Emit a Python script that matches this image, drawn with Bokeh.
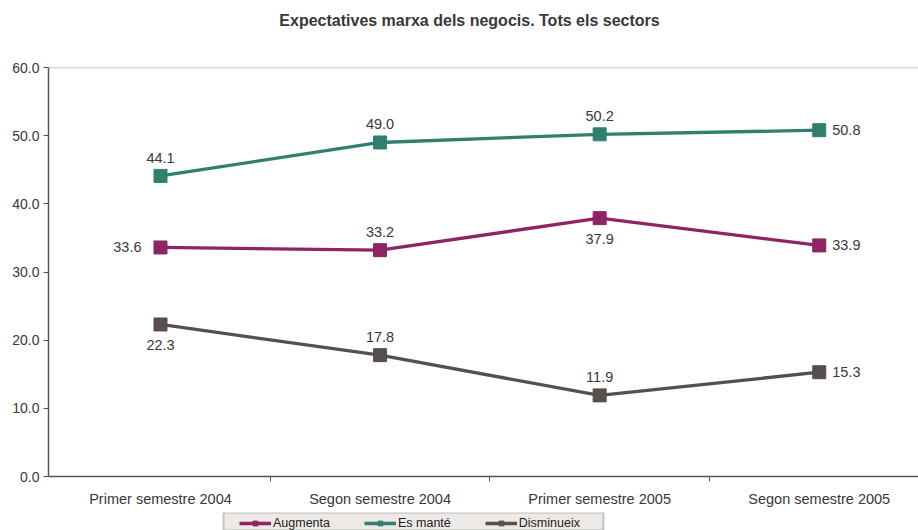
from bokeh.plotting import figure
from bokeh.layouts import column
from bokeh.models import (FixedTicker, Range1d, Span, Legend, LegendItem, Label,
                          ColumnDataSource, LabelSet, NumeralTickFormatter, BoxAnnotation)
from bokeh.core.properties import value
from bokeh.embed import file_html
from bokeh.resources import INLINE

title = "Expectatives marxa dels negocis. Tots els sectors"
categories = ["Primer semestre 2004", "Segon semestre 2004",
              "Primer semestre 2005", "Segon semestre 2005"]
augmenta = [33.6, 33.2, 37.9, 33.9]
es_mante = [44.1, 49.0, 50.2, 50.8]
disminueix = [22.3, 17.8, 11.9, 15.3]
y_ticks = [0, 10, 20, 30, 40, 50, 60]

series = [
    ("Augmenta", augmenta, "#8E2562", ["left", "above", "below", "right"]),
    ("Es manté", es_mante, "#31806F", ["above", "above", "above", "right"]),
    ("Disminueix", disminueix, "#574E4E", ["below", "above", "above", "right"]),
]

FONT = "Liberation Sans"
TXT = "#383838"
xs = list(range(len(categories)))
LEFT = 48

# ---- title strip ----
pt = figure(width=918, height=40, output_backend="svg", toolbar_location=None,
            x_range=Range1d(0, 1), y_range=Range1d(0, 1),
            min_border_left=LEFT, min_border_right=0, min_border_top=0, min_border_bottom=0,
            x_axis_type=None, y_axis_type=None)
pt.outline_line_color = None
pt.grid.visible = False
pt.add_layout(Label(x=0.5, y=0.5, x_offset=-14, text=title, text_align="center",
                    text_baseline="middle", text_font=FONT, text_font_size="16px",
                    text_font_style="bold", text_color=TXT))

# ---- main chart ----
p = figure(width=918, height=471, output_backend="svg", toolbar_location=None,
           x_range=Range1d(-0.51, 3.452), y_range=Range1d(0, 60),
           min_border_left=LEFT, min_border_right=0, min_border_top=27,
           min_border_bottom=35)
p.outline_line_color = None
p.grid.visible = False

p.add_layout(Span(location=60, dimension="width", line_color="#B8B0AE", line_width=1.5))

p.xaxis.ticker = FixedTicker(ticks=xs, minor_ticks=[0.5, 1.5, 2.5])
p.xaxis.major_label_overrides = {i: c for i, c in enumerate(categories)}
p.xaxis.major_tick_out = 0
p.xaxis.major_tick_in = 0
p.xaxis.minor_tick_out = 5
p.xaxis.minor_tick_in = 0
p.xaxis.axis_line_color = "#555555"
p.xaxis.axis_line_width = 1.5
p.xaxis.minor_tick_line_color = "#555555"
p.xaxis.major_label_text_font = FONT
p.xaxis.major_label_text_font_size = "14.5px"
p.xaxis.major_label_text_color = TXT
p.xaxis.major_label_standoff = 9

p.yaxis.ticker = FixedTicker(ticks=y_ticks)
p.yaxis.formatter = NumeralTickFormatter(format="0.0")
p.yaxis.major_tick_out = 5
p.yaxis.major_tick_in = 0
p.yaxis.minor_tick_line_color = None
p.yaxis.axis_line_color = "#555555"
p.yaxis.axis_line_width = 1.5
p.yaxis.major_tick_line_color = "#555555"
p.yaxis.major_label_text_font = FONT
p.yaxis.major_label_text_font_size = "14px"
p.yaxis.major_label_text_color = TXT
p.yaxis.major_label_standoff = 4

offsets = {
    "above": (0, 18, "center"),
    "below": (0, -21, "center"),
    "left": (-19, 0, "right"),
    "right": (13, 0, "left"),
}

for name, vals, color, pos in series:
    p.line(xs, vals, line_color=color, line_width=3.3)
    p.scatter(xs, vals, marker="square", size=13, fill_color=color, line_color=color)
    src = ColumnDataSource(dict(
        x=xs, y=vals, t=[f"{v:.1f}" for v in vals],
        xo=[offsets[q][0] for q in pos], yo=[offsets[q][1] for q in pos],
        al=[offsets[q][2] for q in pos]))
    p.add_layout(LabelSet(x="x", y="y", text="t", source=src, x_offset="xo", y_offset="yo",
                          text_align="al", text_baseline="middle", text_font=value(FONT),
                          text_font_size="14.5px", text_color=TXT))

# ---- legend strip (frame spans page pixels LEFT..918) ----
pl = figure(width=918, height=19, output_backend="svg", toolbar_location=None,
            x_range=Range1d(LEFT, 918), y_range=Range1d(0, 1),
            min_border_left=LEFT, min_border_right=0, min_border_top=1,
            min_border_bottom=0, x_axis_type=None, y_axis_type=None)
pl.grid.visible = False
pl.outline_line_color = None
pl.add_layout(BoxAnnotation(left=223, right=603, fill_color="#ECE9E6", fill_alpha=1,
                            line_color="#555555", line_width=2))
items = []
for name, vals, color, pos in series:
    # same series, lying outside this strip's visible ranges; used only for legend glyphs
    r1 = pl.line(xs, vals, line_color=color, line_width=3.3)
    r2 = pl.scatter(xs, vals, marker="square", size=9, fill_color=color, line_color=color)
    items.append(LegendItem(label=name, renderers=[r1, r2]))
legend = Legend(items=items, orientation="horizontal", location=(191, 0),
                background_fill_alpha=0, border_line_color=None,
                label_text_font=FONT, label_text_font_size="12.5px",
                label_text_color="#222222", glyph_width=32, glyph_height=12,
                spacing=34, padding=3, margin=0, label_standoff=2,
                label_height=12)
pl.add_layout(legend, "center")

layout = column(pt, p, pl, spacing=0)
open("out.html", "w").write(file_html(layout, INLINE))
